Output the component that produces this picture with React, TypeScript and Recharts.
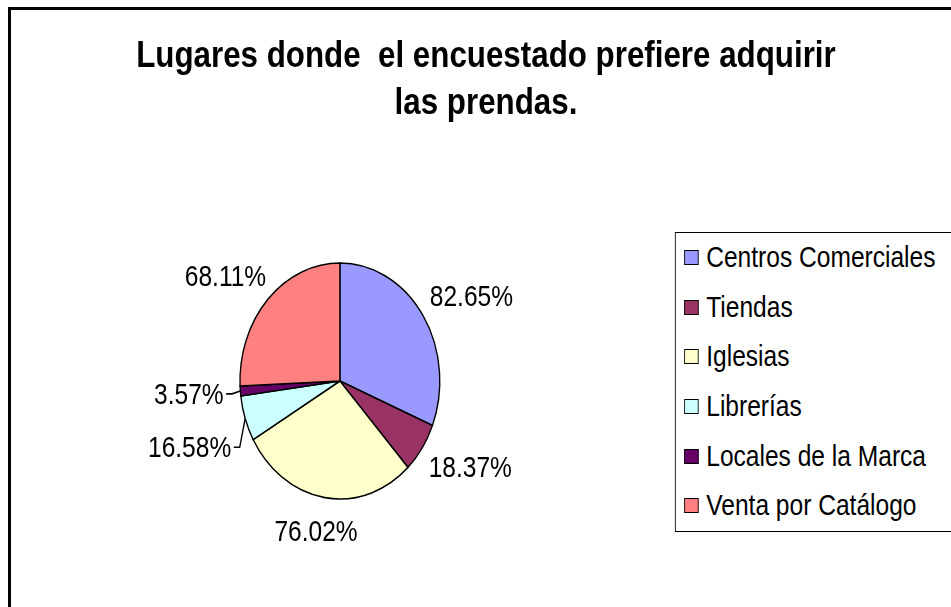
import React from 'react';
import { Cell, Legend, Pie, PieChart } from 'recharts';

const categories = [
  'Centros Comerciales',
  'Tiendas',
  'Iglesias',
  'Librerías',
  'Locales de la Marca',
  'Venta por Catálogo',
];
const percentages = [82.65, 18.37, 76.02, 16.58, 3.57, 68.11];
const sliceColors = ['#9999FF', '#993366', '#FFFFCC', '#CCFFFF', '#660066', '#FF8080'];
const titleLines = ['Lugares donde  el encuestado prefiere adquirir', 'las prendas.'];

// the original picture is squeezed horizontally, so draw wide and scale down
const SX = 0.8468;
const W = 1123;
const H = 607;
const FONT = '"Liberation Sans", Arial, Helvetica, sans-serif';
const LABEL_SIZE = 29;
const LABEL_GAP = 20;
const LEADER_BELOW = 0.065;
// Excel pushed the Librerías label down to clear its neighbour
const labelNudgeY = [0, 0, 0, 18, 0, 0];

const data = categories.map((name, i) => ({ name, value: percentages[i] }));

function renderLabel(props: any) {
  const { cx, cy, midAngle, outerRadius, value, index, percent } = props;
  const rad = Math.PI / 180;
  const ux = Math.cos(-midAngle * rad);
  const uy = Math.sin(-midAngle * rad);
  const text = `${Number(value).toFixed(2)}%`;
  const w = text.length * LABEL_SIZE * 0.565;
  const h = 28;
  const r = outerRadius + LABEL_GAP;
  const x = cx + ux * (r + w / 2);
  const y = cy + uy * (r + h / 2) + (labelNudgeY[index] ?? 0);

  let leader = null;
  if (percent < LEADER_BELOW) {
    const ex = cx + ux * outerRadius;
    const ey = cy + uy * outerRadius;
    const side = ux < 0 ? 1 : -1;
    const sx = x + side * (w / 2 + 3);
    const tx = x + side * (w / 2 + 10);
    leader = (
      <polyline
        points={`${sx},${y} ${tx},${y} ${ex},${ey}`}
        fill="none"
        stroke="#000"
        strokeWidth={1.6}
      />
    );
  }

  return (
    <g key={`lbl-${index}`}>
      {leader}
      <text
        x={x}
        y={y}
        textAnchor="middle"
        dominantBaseline="central"
        fontFamily={FONT}
        fontSize={LABEL_SIZE}
        fill="#000"
      >
        {text}
      </text>
    </g>
  );
}

function LegendBox({ payload }: any) {
  // keep the series order, not the alphabetical one
  const items = [...(payload || [])].sort(
    (a: any, b: any) => categories.indexOf(a.value) - categories.indexOf(b.value),
  );
  return (
    <div
      style={{
        border: '1.5px solid #000',
        background: '#fff',
        fontFamily: FONT,
        fontSize: 29,
        color: '#000',
      }}
    >
      {items.map((entry: any) => {
        const idx = categories.indexOf(entry.value);
        return (
          <div
            key={entry.value}
            style={{ height: 49.6, display: 'flex', alignItems: 'center', whiteSpace: 'nowrap' }}
          >
            <span
              style={{
                display: 'inline-block',
                width: 17,
                height: 15,
                boxSizing: 'border-box',
                border: '1.5px solid #000',
                background: sliceColors[idx] ?? entry.color,
                marginLeft: 10,
                marginRight: 9,
              }}
            />
            <span>{entry.value}</span>
          </div>
        );
      })}
    </div>
  );
}

export default function App() {
  return (
    <div
      style={{
        position: 'fixed',
        left: 0,
        top: 0,
        width: 951,
        height: 607,
        overflow: 'hidden',
        background: '#fff',
      }}
    >
      <div
        style={{
          position: 'absolute',
          left: 0,
          top: 0,
          width: W,
          height: H,
          transform: `scaleX(${SX})`,
          transformOrigin: '0 0',
        }}
      >
        <PieChart width={W} height={H} margin={{ top: 0, right: 0, bottom: 0, left: 0 }}>
          <Pie
            data={data}
            dataKey="value"
            nameKey="name"
            cx={401.4}
            cy={381}
            outerRadius={118}
            startAngle={90}
            endAngle={-270}
            stroke="#000"
            strokeWidth={1.6}
            label={renderLabel}
            labelLine={false}
            isAnimationActive={false}
          >
            {data.map((d, i) => (
              <Cell key={d.name} fill={sliceColors[i]} />
            ))}
          </Pie>
          <Legend
            layout="vertical"
            align="right"
            verticalAlign="top"
            content={<LegendBox />}
            wrapperStyle={{ left: 797, top: 232, width: 360 }}
          />
        </PieChart>
        <svg
          width={W}
          height={H}
          style={{ position: 'absolute', left: 0, top: 0, pointerEvents: 'none' }}
        >
          {titleLines.map((line, i) => (
            <text
              key={i}
              x={573.9}
              y={67 + i * 47}
              textAnchor="middle"
              fontFamily={FONT}
              fontWeight="bold"
              fontSize={37}
              fill="#000"
              style={{ whiteSpace: 'pre' }}
            >
              {line}
            </text>
          ))}
        </svg>
      </div>
      <div
        style={{
          position: 'absolute',
          left: 8,
          top: 7,
          width: 1000,
          height: 700,
          border: '3px solid #000',
          boxSizing: 'border-box',
        }}
      />
    </div>
  );
}
